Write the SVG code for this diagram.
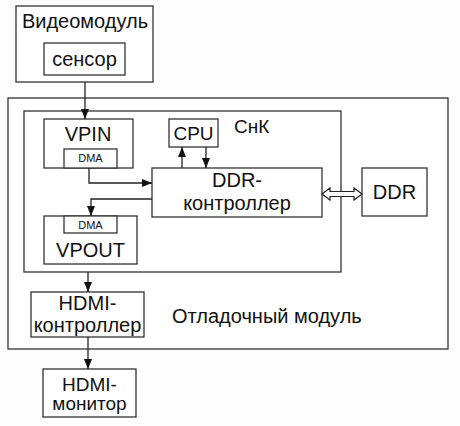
<svg xmlns="http://www.w3.org/2000/svg" width="460" height="426" viewBox="0 0 460 426">
<defs>
<marker id="ah" markerWidth="10" markerHeight="10" refX="10" refY="5" orient="auto" markerUnits="userSpaceOnUse" viewBox="0 0 10 10">
<path d="M0,1 L10,5 L0,9 z" fill="#111"/>
</marker>
<style>
.b{fill:#fff;stroke:#333;stroke-width:1.3}
.t{font-family:"Liberation Sans",Arial,sans-serif;font-size:20px;fill:#111}
.s{font-family:"Liberation Sans",Arial,sans-serif;font-size:11px;fill:#111}
.c{fill:none;stroke:#222;stroke-width:1.3}
</style>
</defs>
<rect width="460" height="426" fill="#fdfdfd"/>
<g id="video">
<rect class="b" x="16" y="6" width="137" height="76"/>
<text class="t" x="85" y="28" text-anchor="middle">Видеомодуль</text>
</g>
<g id="sensor">
<rect class="b" x="44" y="43" width="81" height="32"/>
<text class="t" x="84.5" y="66" text-anchor="middle">сенсор</text>
</g>
<g id="debug">
<rect class="b" x="8" y="98" width="440" height="251"/>
<text class="t" x="172" y="323">Отладочный модуль</text>
</g>
<g id="soc">
<rect class="b" x="24" y="111" width="317" height="161"/>
<text class="t" x="234" y="133" style="font-size:19px">СнК</text>
</g>
<g id="vpin">
<rect class="b" x="44" y="119" width="89" height="49"/>
<text class="t" x="88" y="141" text-anchor="middle">VPIN</text>
<rect class="b" x="64" y="149" width="53" height="19"/>
<text class="s" x="90.5" y="162" text-anchor="middle">DMA</text>
</g>
<g id="cpu">
<rect class="b" x="169" y="119" width="49" height="28"/>
<text class="t" x="193.5" y="139.5" text-anchor="middle" style="font-size:19px">CPU</text>
</g>
<g id="ddrc">
<rect class="b" x="152" y="168" width="170" height="49"/>
<text class="t" x="237" y="187" text-anchor="middle">DDR-</text>
<text class="t" x="237" y="210" text-anchor="middle">контроллер</text>
</g>
<g id="vpout">
<rect class="b" x="44" y="216" width="93" height="48"/>
<rect class="b" x="64" y="216" width="53" height="17"/>
<text class="s" x="90.5" y="228.5" text-anchor="middle">DMA</text>
<text class="t" x="90.5" y="257" text-anchor="middle">VPOUT</text>
</g>
<g id="ddr">
<rect class="b" x="362" y="168" width="65" height="48"/>
<text class="t" x="394.5" y="199" text-anchor="middle">DDR</text>
</g>
<g id="hdmic">
<rect class="b" x="31" y="292" width="113" height="45"/>
<text class="t" x="87.5" y="310" text-anchor="middle">HDMI-</text>
<text class="t" x="87.5" y="332" text-anchor="middle">контроллер</text>
</g>
<g id="hdmim">
<rect class="b" x="43" y="369" width="93" height="48"/>
<text class="t" x="89.5" y="391" text-anchor="middle" style="font-size:19px">HDMI-</text>
<text class="t" x="89.5" y="410" text-anchor="middle" style="font-size:19px">монитор</text>
</g>
<g id="connectors">
<path class="c" d="M85,82 V119" marker-end="url(#ah)"/>
<path class="c" d="M182,168 V147" marker-end="url(#ah)"/>
<path class="c" d="M206,147 V168" marker-end="url(#ah)"/>
<path class="c" d="M89,168 V183 H152" marker-end="url(#ah)"/>
<path class="c" d="M152,199 H91 V216" marker-end="url(#ah)"/>
<path class="c" d="M88,272 V292" marker-end="url(#ah)"/>
<path class="c" d="M88,337 V369" marker-end="url(#ah)"/>
<polygon points="322,194 330,188 330,191.5 354,191.5 354,188 362,194 354,200 354,196.5 330,196.5 330,200" fill="#fff" stroke="#222" stroke-width="1.2"/>
</g>
</svg>
